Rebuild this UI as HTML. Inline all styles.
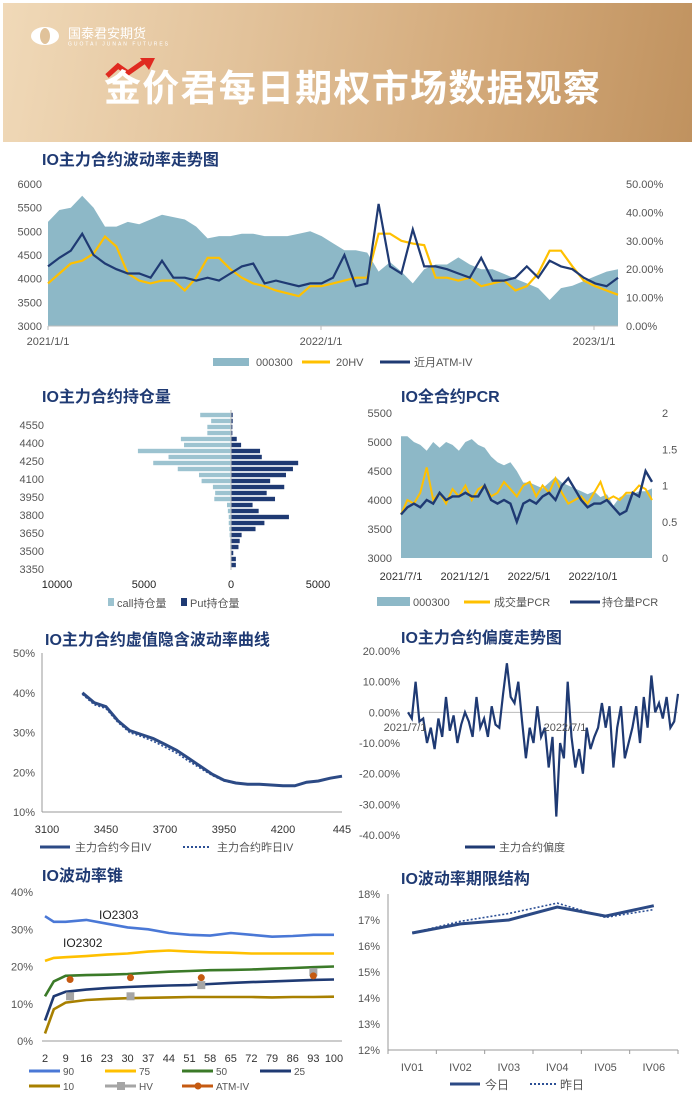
<!DOCTYPE html>
<html><head><meta charset="utf-8">
<style>
html,body{margin:0;padding:0;background:#fff;}
body{width:700px;height:1101px;overflow:hidden;position:relative;font-family:"Liberation Sans","Noto Sans CJK SC",sans-serif;}
#banner{position:absolute;left:3px;top:3px;width:689px;height:139px;background:linear-gradient(100deg,#f0d9b8 0%,#e2c29a 35%,#d2a878 70%,#c0925f 100%);}
svg text{font-family:"Liberation Sans","Noto Sans CJK SC",sans-serif;}
</style></head>
<body>
<div id="banner"></div>
<svg id="s" width="700" height="1101" style="position:absolute;left:0;top:0">
  <g>
    <ellipse cx="45" cy="36" rx="14" ry="9" fill="#fff"/>
    <ellipse cx="45" cy="36" rx="5" ry="8" fill="#e0c29a"/>
    <text x="68" y="38" font-size="13" fill="#fff">国泰君安期货</text>
    <text x="68" y="45.5" font-size="5" fill="#fff" textLength="100">GUOTAI JUNAN FUTURES</text>
  </g>
  <path d="M107 76 L118 66 L128 73 L145 61" stroke="#e02a20" stroke-width="5" fill="none"/>
  <path d="M140 58 L155 58 L149 70 Z" fill="#e02a20"/>
  <text x="104" y="101" font-size="37" font-weight="bold" fill="#fff" textLength="496">金价君每日期权市场数据观察</text>
</svg>
<script>
const NAVY='#1f3a73', GOLD='#ffc000', TEAL='#8db8c7';
const svg=document.getElementById('s');
const NS='http://www.w3.org/2000/svg';
function el(tag,attrs,parent){const e=document.createElementNS(NS,tag);for(const k in attrs)e.setAttribute(k,attrs[k]);(parent||svg).appendChild(e);return e;}
function txt(x,y,s,size,fill,anchor,weight){const t=el('text',{x:x,y:y,'font-size':size,fill:fill||'#444','text-anchor':anchor||'start','font-weight':weight||'normal'});t.textContent=s;return t;}
function pathOf(xs,ys){return xs.map((x,i)=>(i?'L':'M')+x.toFixed(1)+' '+ys[i].toFixed(1)).join(' ');}

/* ---------- Chart 1 data ---------- */
const c1Index=[5200,5450,5500,5750,5500,5100,5100,5200,5150,5250,5350,5300,5250,5100,4850,4900,4900,4950,4950,4900,4900,4900,4950,5000,4900,4750,4600,4600,4550,4150,4350,4150,3900,4200,4300,4300,4450,4300,4200,4200,4100,4000,3900,3800,3550,3800,3850,3950,4050,4150,4200];
const c1HV=[15,18.5,22,23,25.5,31.5,28,18.5,16,15,16,16,12.5,17,24,24,20,17,15,14,12.5,11.5,10.5,14,14,15,16,17,17,32.5,32.5,30,29,28.5,17,17,16,17,14,15,16,12.5,14,18.5,26.5,26.5,21,16,14,12.5,11];
const c1IV=[21,24,26.5,32.5,25,22,20,18.5,18.5,17,23,17,17,16,17,16,18.5,21,22,15,16,15,14,15,15,17,25,14,15,43,21,18.5,34,21,21,20,18.5,17,24,16,16,17,21,17,23,21,20,17,15,14,17];
const c1LeftTicks=[3000,3500,4000,4500,5000,5500,6000];
const c1RightTicks=[0,10,20,30,40,50];
const c1XLabels=['2021/1/1','2022/1/1','2023/1/1'];
const c1XLabelYears=[0,1,2];

/* ---------- Chart 2 data ---------- */
const c2Strikes=[4600,4550,4500,4450,4400,4350,4300,4250,4200,4150,4100,4050,4000,3950,3900,3850,3800,3750,3700,3650,3600,3550,3500,3450,3400,3350];
const c2Call=[1770,1140,1360,1360,2880,2700,5350,3590,4470,3060,1840,1690,1040,910,960,230,180,130,130,100,80,50,50,30,30,30];
const c2Put=[100,100,80,80,330,580,1670,1770,3860,3560,3160,2250,3060,2050,2530,1240,1590,3330,1920,1410,610,500,430,130,280,280];
const c2YLabels=[4550,4400,4250,4100,3950,3800,3650,3500,3350];
const c2XTicks=[-10000,-5000,0,5000];

/* ---------- Chart 3 data ---------- */
const c3Index=[5100,5100,5000,4950,4850,5000,4900,5000,4950,4850,5000,5050,4950,4900,4750,4650,4600,4650,4500,4300,4300,4250,4200,4300,4400,4300,4250,4200,4150,4100,4150,4050,4100,3900,4050,4100,4100,4150,4150,4200];
const c3VolPCR=[0.6,0.8,0.75,0.9,1.25,0.8,0.9,0.75,0.95,0.85,1.0,0.8,0.95,1.0,0.85,0.9,1.05,0.95,0.85,1.0,1.05,0.85,1.0,0.9,1.1,0.9,0.75,0.8,0.85,0.75,0.9,1.05,0.8,0.85,0.8,0.9,0.9,1.0,0.95,0.8];
const c3OIPCR=[0.6,0.7,0.75,0.7,0.8,0.75,0.9,0.8,0.85,0.85,0.9,0.85,0.85,1.0,0.8,0.75,0.8,0.75,0.5,0.75,0.8,0.75,0.85,0.9,0.8,1.0,1.1,0.95,0.8,0.7,0.75,0.75,0.8,0.7,0.6,0.65,0.9,0.85,1.2,1.05];
const c3LeftTicks=[3000,3500,4000,4500,5000,5500];
const c3RightTicks=[0,0.5,1,1.5,2];
const c3XLabels=['2021/7/1','2021/12/1','2022/5/1','2022/10/1'];
const c3XLabelMonths=[0,5,10,15];

/* ---------- Chart 4 data ---------- */
const c4TickLabels=['3100','3450','3700','3950','4200','445'];
const c4StartIdx=3;
const c4Today=[40,37.5,36.5,33,30.5,29.5,28.5,27,25.5,23.5,21.5,19.5,18,17.3,17,17,16.8,16.6,16.6,17.5,17.8,18.5,19];
const c4Yest=[39.6,37,36,32.6,30,29,27.8,26.3,24.8,22.8,21,19.2,17.8,17.2,17,16.9,16.8,16.7,16.6,17.4,17.8,18.5,19];
const c4YTicks=[10,20,30,40,50];

/* ---------- Chart 5 data ---------- */
const c5Skew=[0,-2,10,-3,-2,-10,-5,-12,-2,-8,5,-6,-1,-10,-4,0,-3,-8,5,-5,-2,-8,2,-4,-5,6,16,5,3,10,-3,-15,-5,-10,2,-8,-5,-18,-8,-34,-10,-15,10,-8,-18,-12,-20,-5,-12,-8,-5,3,-5,2,-18,-5,2,-15,-10,-5,2,-10,5,-5,12,0,3,-2,5,-5,-3,6];
const c5YTicks=[-40,-30,-20,-10,0,10,20];

/* ---------- Chart 6 data ---------- */
const c6Windows=[2,5,9,16,23,30,37,44,51,58,65,72,79,86,93,100];
const c6P90=[33.5,32,32,32.5,31.5,30.5,30,29,28.5,28.3,29,28.5,28,28.2,28.5,28.5];
const c6P75=[21.5,22.3,22.5,22.8,23.2,23.5,24,24.3,24,23.8,23.7,23.5,23.5,23.5,23.5,23.5];
const c6P50=[12,16,17.5,17.7,17.8,18,18.3,18.6,18.8,19,19.1,19.2,19.4,19.6,19.8,20];
const c6P25=[5.5,12,13.2,13.8,14.2,14.5,14.7,14.9,15,15.3,15.6,15.8,16,16.2,16.4,16.5];
const c6P10=[2,8.5,10.3,11,11.3,11.5,11.6,11.7,11.8,11.8,11.8,11.8,11.7,11.8,11.8,11.9];
const c6HVWin=[10.5,31,55,93];
const c6HV=[12,12,15,18.5];
const c6ATM=[16.5,17,17,17.5];
const c6YTicks=[0,10,20,30,40];
const c6XTicks=[2,9,16,23,30,37,44,51,58,65,72,79,86,93,100];

/* ---------- Chart 7 data ---------- */
const c7Cats=['IV01','IV02','IV03','IV04','IV05','IV06'];
const c7Today=[16.5,16.85,17.0,17.5,17.15,17.55];
const c7Yest=[16.5,16.95,17.25,17.65,17.1,17.4];
const c7YTicks=[12,13,14,15,16,17,18];

/* ===== titles ===== */
const titles=[[42,165,'IO主力合约波动率走势图','chart1-title'],[42,402,'IO主力合约持仓量','chart2-title'],[401,402,'IO全合约PCR','chart3-title'],[45,645,'IO主力合约虚值隐含波动率曲线','chart4-title'],[401,643,'IO主力合约偏度走势图','chart5-title'],[42,881,'IO波动率锥','chart6-title'],[401,884,'IO波动率期限结构','chart7-title']];
titles.forEach(t=>{const e=txt(t[0],t[1],t[2],16,NAVY,'start','bold');

});

function legLine(x1,x2,y,color,dash,w){return el('line',{x1:x1,x2:x2,y1:y,y2:y,stroke:color,'stroke-width':w||3,'stroke-dasharray':dash||'none'});}

/* ===== Chart 1 ===== */
(function(){
  const g=el('g',{});
  
  
  const X0=48,X1=618,YT=184,YB=326,N=c1Index.length;
  const xs=i=>X0+(X1-X0)*i/(N-1);
  const yL=v=>YB-(v-3000)/3000*(YB-YT);
  const yR=v=>YB-v/50*(YB-YT);
  const px=c1Index.map((v,i)=>xs(i)), py=c1Index.map(yL);
  const a=el('path',{d:pathOf(px,py)+` L${X1} ${YB} L${X0} ${YB} Z`,fill:TEAL},g);
  
  
  const h=el('path',{d:pathOf(px,c1HV.map(yR)),fill:'none',stroke:GOLD,'stroke-width':2.2},g);
  
  
  const v=el('path',{d:pathOf(px,c1IV.map(yR)),fill:'none',stroke:NAVY,'stroke-width':2.2},g);
  
  
  el('line',{x1:X0,x2:X1,y1:YB,y2:YB,stroke:'#bbb'},g);
  c1LeftTicks.forEach(t=>{const e=txt(42,yL(t)+4,String(t),11,'#555','end');});
  c1RightTicks.forEach(t=>{const e=txt(626,yR(t)+4,t.toFixed(2)+'%',11,'#555','start');});
  c1XLabels.forEach((s,i)=>{const x=X0+273*c1XLabelYears[i];const e=txt(x,345,s,11,'#555','middle');el('line',{x1:x,x2:x,y1:YB,y2:YB+4,stroke:'#bbb'},g);});
  el('rect',{x:213,y:358,width:36,height:8,fill:TEAL});
  const l1=txt(256,366,'000300',11,'#555');
  legLine(302,330,362,GOLD);
  const l2=txt(336,366,'20HV',11,'#555');
  legLine(380,410,362,NAVY);
  const l3=txt(414,366,'近月ATM-IV',11,'#555');
})();

/* ===== Chart 2 ===== */
(function(){
  const Z=231,S=87/5000,Y0=415,STEP=6;
  const yOf=k=>Y0+(4600-k)/50*STEP;
  c2Strikes.forEach((k,i)=>{
    const c=el('rect',{x:Z-c2Call[i]*S,y:yOf(k)-2.2,width:c2Call[i]*S,height:4.4,fill:'#9cc3d0'});
    
    
    const p=el('rect',{x:Z,y:yOf(k)-2.2,width:c2Put[i]*S,height:4.4,fill:NAVY});
    
    
  });
  el('line',{x1:Z,x2:Z,y1:410,y2:570,stroke:'#bbb'});
  c2YLabels.forEach(k=>{const e=txt(44,yOf(k)+8,String(k),11,'#555','end');});
  c2XTicks.forEach(t=>{const e=txt(Z+t*S,588,String(Math.abs(t)),11,'#222','middle');});
  el('rect',{x:108,y:598,width:6,height:8,fill:'#9cc3d0'});
  const a=txt(117,607,'call持仓量',11,'#555');
  el('rect',{x:181,y:598,width:6,height:8,fill:NAVY});
  const b=txt(190,607,'Put持仓量',11,'#555');
})();

/* ===== Chart 3 ===== */
(function(){
  const X0=401,X1=652,YT=413,YB=558,N=c3Index.length;
  const xs=i=>X0+(X1-X0)*i/(N-1);
  const yL=v=>YB-(v-3000)/2500*(YB-YT);
  const yR=v=>YB-v/2*(YB-YT);
  const px=c3Index.map((v,i)=>xs(i));
  const a=el('path',{d:pathOf(px,c3Index.map(yL))+` L${X1} ${YB} L${X0} ${YB} Z`,fill:TEAL});
  
  const b=el('path',{d:pathOf(px,c3VolPCR.map(yR)),fill:'none',stroke:GOLD,'stroke-width':2});
  
  const c=el('path',{d:pathOf(px,c3OIPCR.map(yR)),fill:'none',stroke:NAVY,'stroke-width':2.4});
  
  c3LeftTicks.forEach(t=>{const e=txt(392,yL(t)+4,String(t),11,'#555','end');});
  c3RightTicks.forEach(t=>{const e=txt(662,yR(t)+4,String(t),11,'#555','start');});
  c3XLabels.forEach((s,i)=>{const e=txt(X0+c3XLabelMonths[i]*12.8,580,s,11,'#333','middle');});
  el('rect',{x:377,y:597,width:33,height:9,fill:TEAL});
  const l1=txt(413,606,'000300',11,'#555');
  legLine(464,490,602,GOLD);
  const l2=txt(494,606,'成交量PCR',11,'#555');
  legLine(570,600,602,NAVY);
  const l3=txt(602,606,'持仓量PCR',11,'#555');
})();

/* ===== Chart 4 ===== */
(function(){
  const X0=47,STEP=11.8,YT=653,YB=812;
  const xOf=i=>X0+i*STEP;
  const yOf=v=>YB-(v-10)/40*(YB-YT);
  el('line',{x1:42,x2:342,y1:YB,y2:YB,stroke:'#999'});
  el('line',{x1:42,x2:42,y1:YT,y2:YB,stroke:'#999'});
  const xs=c4Today.map((v,i)=>xOf(i+c4StartIdx));
  const y=el('path',{d:pathOf(xs,c4Yest.map(yOf)),fill:'none',stroke:'#2c4f95','stroke-width':1.6,'stroke-dasharray':'2,2'});
  
  const t=el('path',{d:pathOf(xs,c4Today.map(yOf)),fill:'none',stroke:'#2c4a85','stroke-width':3});
  
  c4YTicks.forEach(v=>{const e=txt(35,yOf(v)+4,v+'%',11,'#555','end');});
  c4TickLabels.forEach((s,i)=>{const e=txt(xOf(i*5),833,s,11,'#333','middle');});
  legLine(40,70,847,'#2c4a85');
  const a=txt(75,851,'主力合约今日IV',11,'#555');
  legLine(183,210,847,'#2c4f95','2,2',2);
  const b=txt(217,851,'主力合约昨日IV',11,'#555');
})();

/* ===== Chart 5 ===== */
(function(){
  const X0=408,X1=678,Y20=651,YN40=835,N=c5Skew.length;
  const yOf=v=>Y20+(20-v)/60*(YN40-Y20);
  const xs=c5Skew.map((v,i)=>X0+(X1-X0)*i/(N-1));
  el('line',{x1:X0,x2:X1,y1:yOf(0),y2:yOf(0),stroke:'#bbb'});
  const p=el('path',{d:pathOf(xs,c5Skew.map(yOf)),fill:'none',stroke:NAVY,'stroke-width':2.2});
  
  c5YTicks.forEach(v=>{const e=txt(400,yOf(v)+4,v.toFixed(2)+'%',11,'#555','end');});
  const a=txt(405,731,'2021/7/1',11,'#555','middle');
  const b=txt(565,731,'2022/7/1',11,'#555','middle');
  legLine(465,495,847,NAVY);
  const l=txt(499,851,'主力合约偏度',11,'#555');
})();

/* ===== Chart 6 ===== */
(function(){
  const X0=45,X1=334,YT=892,YB=1041;
  const xOf=w=>X0+(w-2)/98*(X1-X0);
  const yOf=v=>YB-v/40*(YB-YT);
  el('line',{x1:42,x2:342,y1:YB,y2:YB,stroke:'#999'});
  const series=[[c6P90,'#4a78d6','cone-p90'],[c6P75,GOLD,'cone-p75'],[c6P50,'#3b7a28','cone-p50'],[c6P25,'#1f3a73','cone-p25'],[c6P10,'#a88000','cone-p10']];
  const xs=c6Windows.map(xOf);
  series.forEach(s=>{const p=el('path',{d:pathOf(xs,s[0].map(yOf)),fill:'none',stroke:s[1],'stroke-width':2.6});
    
    });
  c6HVWin.forEach((w,i)=>{
    const r=el('rect',{x:xOf(w)-4,y:yOf(c6HV[i])-4,width:8,height:8,fill:'#a5a5a5'});
    
    const c=el('circle',{cx:xOf(w),cy:yOf(c6ATM[i]),r:3.5,fill:'#c55a11'});
    
  });
  c6YTicks.forEach(v=>{const e=txt(33,yOf(v)+4,v+'%',11,'#555','end');});
  c6XTicks.forEach(w=>{const e=txt(xOf(w),1062,String(w),11,'#333','middle');});
  const i1=txt(99,919,'IO2303',12,'#222');
  const i2=txt(63,947,'IO2302',12,'#222');
  const leg=[[29,1071,'#4a78d6','90'],[105,1071,GOLD,'75'],[182,1071,'#3b7a28','50'],[260,1071,'#1f3a73','25'],[29,1086,'#a88000','10'],[105,1086,'#a5a5a5','HV'],[182,1086,'#c55a11','ATM-IV']];
  leg.forEach((l,i)=>{legLine(l[0],l[0]+31,l[1],l[2]);
    if(l[3]==='HV')el('rect',{x:l[0]+12,y:l[1]-4,width:8,height:8,fill:l[2]});
    if(l[3]==='ATM-IV')el('circle',{cx:l[0]+16,cy:l[1],r:3.5,fill:l[2]});
    const t=txt(l[0]+34,l[1]+4,l[3],10,'#555');
    
    });
})();

/* ===== Chart 7 ===== */
(function(){
  const X0=388,X1=678,YT=894,YB=1050,N=c7Cats.length;
  const xOf=i=>X0+(X1-X0)*(i+0.5)/N;
  const yOf=v=>YB-(v-12)/6*(YB-YT);
  el('line',{x1:X0,x2:X1,y1:YB,y2:YB,stroke:'#999'});
  el('line',{x1:X0,x2:X0,y1:YT,y2:YB,stroke:'#999'});
  for(let i=0;i<=N;i++){const x=X0+(X1-X0)*i/N;el('line',{x1:x,x2:x,y1:YB,y2:YB+4,stroke:'#999'});}
  const xs=c7Cats.map((c,i)=>xOf(i));
  const y=el('path',{d:pathOf(xs,c7Yest.map(yOf)),fill:'none',stroke:'#2c4f95','stroke-width':1.6,'stroke-dasharray':'2,2'});
  
  const t=el('path',{d:pathOf(xs,c7Today.map(yOf)),fill:'none',stroke:'#2c4a85','stroke-width':3});
  
  c7YTicks.forEach(v=>{const e=txt(380,yOf(v)+4,v+'%',11,'#555','end');});
  c7Cats.forEach((c,i)=>{const e=txt(xOf(i),1071,c,11,'#555','middle');});
  legLine(450,480,1084,'#2c4a85');
  const a=txt(485,1089,'今日',12,'#555');
  legLine(530,556,1084,'#2c4f95','2,2',2);
  const b=txt(560,1089,'昨日',12,'#555');
})();
</script>
</body></html>
